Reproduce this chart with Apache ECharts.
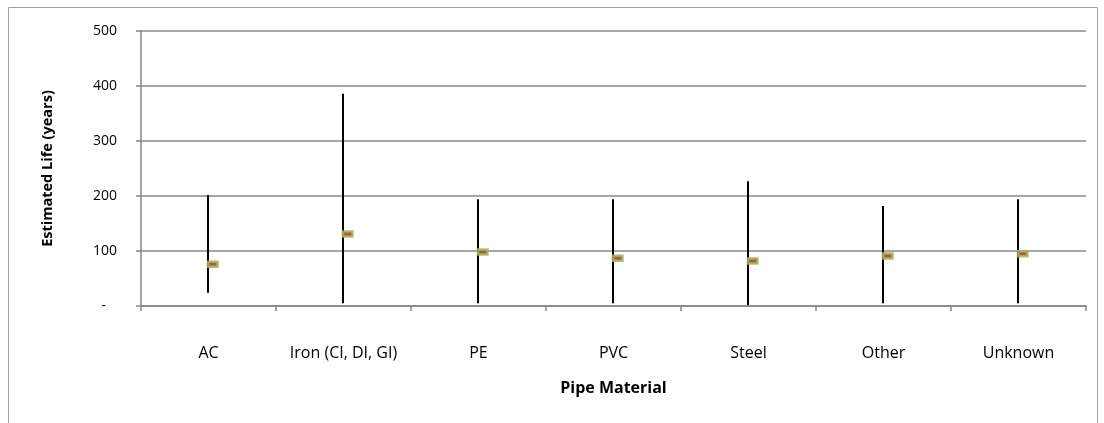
<!DOCTYPE html>
<html>
<head>
<meta charset="utf-8">
<script src="https://cdn.jsdelivr.net/npm/echarts@6/dist/echarts.min.js"></script>
<style>
html,body{margin:0;padding:0;background:#fff;}
#chart{width:1104px;height:423px;}
</style>
</head>
<body>
<div id="chart"></div>
<script>
const categories = ['AC', 'Iron (CI, DI, GI)', 'PE', 'PVC', 'Steel', 'Other', 'Unknown'];
const lowValues  = [24, 5, 5, 5, 2, 5, 5];
const highValues = [202, 386, 194, 194, 227, 182, 194];
const meanValues = [76, 131, 98, 87, 82, 91, 95];
const yTicks = [0, 100, 200, 300, 400, 500];

const FONT = '"Open Sans", "Liberation Sans", sans-serif';
const data = categories.map((c, i) => [i, lowValues[i], highValues[i], meanValues[i]]);

const chart = echarts.init(document.getElementById('chart'), null, {renderer: 'canvas'});
chart.setOption({
  animation: false,
  backgroundColor: '#fff',
  graphic: [{
    type: 'rect', silent: true, z: -10,
    shape: {x: 8.5, y: 7.5, width: 1089, height: 430},
    style: {fill: 'none', stroke: '#a0a0a0', lineWidth: 1}
  }],
  grid: {left: 141, right: 18, top: 31, bottom: 117, containLabel: false},
  xAxis: {
    type: 'category',
    data: categories,
    boundaryGap: true,
    name: 'Pipe Material',
    nameLocation: 'middle',
    nameGap: 74,
    nameTextStyle: {fontFamily: FONT, fontSize: 16, fontWeight: 'bold', color: '#000'},
    axisLine: {lineStyle: {color: '#868686', width: 1.5}},
    axisTick: {show: true, alignWithLabel: false, length: 5, lineStyle: {color: '#868686', width: 1.5}},
    axisLabel: {margin: 39, fontFamily: FONT, fontSize: 16, color: '#000', interval: 0},
    splitLine: {show: false}
  },
  yAxis: {
    type: 'value',
    min: yTicks[0],
    max: yTicks[yTicks.length - 1],
    interval: yTicks[1] - yTicks[0],
    name: 'Estimated Life (years)',
    nameLocation: 'middle',
    nameGap: 86,
    nameRotate: 90,
    nameTextStyle: {fontFamily: FONT, fontSize: 14.5, fontWeight: 'bold', color: '#000'},
    axisLine: {show: true, lineStyle: {color: '#868686', width: 1.5}},
    axisTick: {show: true, length: 5, lineStyle: {color: '#868686', width: 1.5}},
    axisLabel: {
      margin: 24, fontFamily: FONT, fontSize: 14, color: '#000',
      formatter: v => v === 0 ? '-\u00a0\u00a0\u00a0' : String(v)
    },
    splitLine: {show: true, lineStyle: {color: '#a6a6a6', width: 2}}
  },
  series: [{
    type: 'custom',
    data: data,
    encode: {x: 0, y: [1, 2, 3]},
    renderItem: function (params, api) {
      const x = api.value(0);
      const lo = api.coord([x, api.value(1)]);
      const hi = api.coord([x, api.value(2)]);
      const mn = api.coord([x, api.value(3)]);
      const cx = Math.round(lo[0]) - 1;
      return {
        type: 'group',
        children: [
          {
            type: 'line',
            shape: {x1: cx, y1: lo[1], x2: cx, y2: hi[1]},
            style: {stroke: '#000', lineWidth: 2}
          },
          {
            type: 'rect',
            shape: {x: cx, y: mn[1] - 2.5, width: 9.5, height: 5},
            style: {fill: '#c0504d', stroke: 'rgba(155,187,89,0.85)', lineWidth: 2.5}
          }
        ]
      };
    }
  }]
});
</script>
</body>
</html>
